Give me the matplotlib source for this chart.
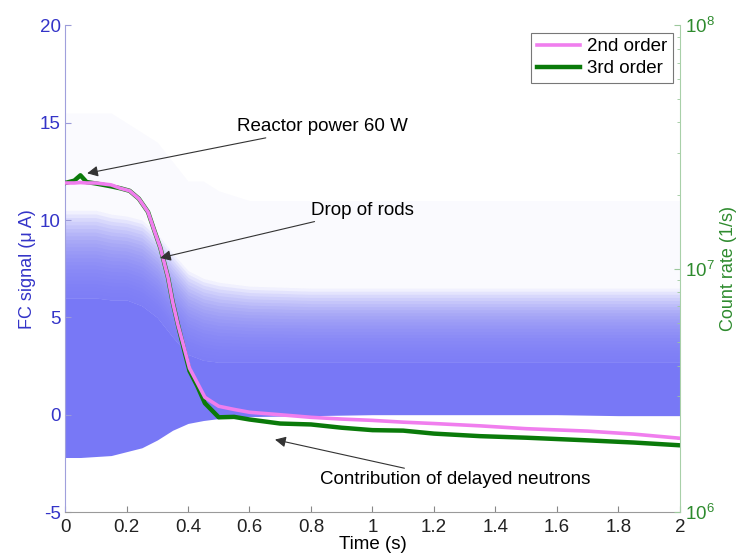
import numpy as np
import matplotlib
matplotlib.use("Agg")
import matplotlib.pyplot as plt

plt.rcParams['font.family'] = ['Liberation Sans', 'DejaVu Sans']
plt.rcParams['mathtext.fontset'] = 'custom'
plt.rcParams['mathtext.rm'] = 'Liberation Sans'
plt.rcParams['mathtext.it'] = 'Liberation Sans:italic'
plt.rcParams['axes.unicode_minus'] = False

# FC signal envelope (uA) versus time (s)
t_env = [0.0, 0.05, 0.10, 0.15, 0.20, 0.25, 0.30, 0.35, 0.40, 0.45, 0.50, 0.60,
         0.80, 1.00, 1.20, 1.40, 1.60, 1.80, 2.00]
fc_lower = [-2.2, -2.2, -2.15, -2.1, -1.9, -1.7, -1.3, -0.8, -0.45, -0.3, -0.2, -0.1,
            -0.05, 0.0, 0.0, 0.0, 0.0, -0.05, -0.05]
fc_core = [6.0, 6.0, 6.0, 5.9, 5.9, 5.6, 5.0, 4.0, 3.1, 2.8, 2.7, 2.7,
           2.7, 2.7, 2.7, 2.7, 2.7, 2.7, 2.7]
fc_fade = [10.5, 10.5, 10.5, 10.3, 10.2, 10.0, 9.3, 8.3, 7.4, 7.0, 6.8, 6.6,
           6.5, 6.5, 6.5, 6.5, 6.5, 6.5, 6.5]
fc_peak = [15.5, 15.5, 15.5, 15.5, 15.0, 14.5, 14.0, 13.0, 12.0, 12.0, 11.5, 11.0,
           11.0, 11.0, 11.0, 11.0, 11.0, 11.0, 11.0]

# Count rate (1/s) from 2nd and 3rd order
t_rate = [0.0, 0.03, 0.05, 0.07, 0.10, 0.15, 0.18, 0.21, 0.24, 0.27, 0.29, 0.31,
          0.335, 0.35, 0.367, 0.39, 0.405, 0.43, 0.455, 0.50, 0.55, 0.60, 0.70,
          0.80, 0.90, 1.00, 1.10, 1.20, 1.35, 1.50, 1.70, 1.85, 2.00]
rate_2nd = [2.25e7, 2.25e7, 2.26e7, 2.25e7, 2.25e7, 2.21e7, 2.14e7, 2.09e7, 1.94e7,
            1.71e7, 1.44e7, 1.22e7, 9.2e6, 7.3e6, 5.9e6, 4.6e6, 3.9e6, 3.4e6,
            2.96e6, 2.72e6, 2.64e6, 2.57e6, 2.51e6, 2.45e6, 2.41e6, 2.38e6, 2.34e6,
            2.31e6, 2.26e6, 2.2e6, 2.15e6, 2.09e6, 2.01e6]
rate_3rd = [2.25e7, 2.3e7, 2.42e7, 2.27e7, 2.24e7, 2.18e7, 2.14e7, 2.09e7, 1.94e7,
            1.71e7, 1.44e7, 1.22e7, 9.2e6, 7.3e6, 5.9e6, 4.5e6, 3.8e6, 3.3e6,
            2.8e6, 2.45e6, 2.46e6, 2.40e6, 2.31e6, 2.29e6, 2.22e6, 2.17e6, 2.16e6,
            2.10e6, 2.05e6, 2.02e6, 1.97e6, 1.93e6, 1.88e6]

blue = '#7878F6'
blue_txt = '#3434C8'
green = '#0A7A0A'
green_txt = '#2E8B2E'
pink = '#F07EEE'

fig = plt.figure(figsize=(7.39, 5.6), dpi=100)
ax = fig.add_axes([0.088, 0.0857, 0.832, 0.869])

t = np.array(t_env)
lo = np.array(fc_lower)
core = np.array(fc_core)
fade = np.array(fc_fade)
peak = np.array(fc_peak)

# faint spikes, fading tails, then the dense core of the signal
ax.fill_between(t, fade, peak, color=blue, alpha=0.035, lw=0)
n_layers = 24
for k in range(1, n_layers + 1):
    ax.fill_between(t, core, core + (fade - core) * k / n_layers,
                    color=blue, alpha=0.10, lw=0)
ax.fill_between(t, lo, core, color=blue, lw=0)

ax.set_xlim(0, 2)
ax.set_ylim(-5, 20)
ax.set_xticks(np.arange(0, 2.01, 0.2))
ax.set_xticklabels(['0', '0.2', '0.4', '0.6', '0.8', '1', '1.2', '1.4', '1.6', '1.8', '2'])
ax.set_yticks([-5, 0, 5, 10, 15, 20])
ax.tick_params(axis='x', direction='in', labelsize=13.5, length=4, colors='#888888',
               labelcolor='#222222', pad=5)
ax.tick_params(axis='y', direction='in', labelsize=13.5, length=4, colors='#9A9AD8',
               labelcolor=blue_txt, pad=3)
ax.set_xlabel('Time (s)', fontsize=13.5, labelpad=0)
ax.set_ylabel('FC signal (\u03bc A)', fontsize=13, color=blue_txt, labelpad=3)
for s in ['top', 'right']:
    ax.spines[s].set_visible(False)
ax.spines['left'].set_color('#A0A0DC')
ax.spines['bottom'].set_color('#9A9A9A')

ax2 = ax.twinx()
ax2.set_yscale('log')
ax2.plot(t_rate, rate_3rd, color=green, lw=3.2, label='3rd order', zorder=2)
ax2.plot(t_rate, rate_2nd, color=pink, lw=2.6, label='2nd order', zorder=3)
ax2.set_ylim(1e6, 1e8)
ax2.set_xlim(0, 2)
ax2.tick_params(axis='y', which='both', direction='in', colors='#9CC89C',
                labelcolor=green_txt, labelsize=13.5)
ax2.tick_params(axis='y', which='major', length=4)
ax2.tick_params(axis='y', which='minor', length=2.5)
ax2.set_ylabel('Count rate (1/s)', fontsize=13, color=green_txt, labelpad=4)
for s in ['top', 'left', 'bottom']:
    ax2.spines[s].set_visible(False)
ax2.spines['right'].set_color('#A8D0A8')

handles, labels = ax2.get_legend_handles_labels()
leg = ax2.legend(handles[::-1], labels[::-1], loc='upper right',
                 bbox_to_anchor=(0.988, 0.985), fontsize=13.5, frameon=True,
                 fancybox=False, edgecolor='#555555', borderpad=0.3,
                 handlelength=2.3, handletextpad=0.35, labelspacing=0.25,
                 borderaxespad=0.0)
leg.get_frame().set_linewidth(0.8)

arrow = dict(arrowstyle='-|>', color='#333333', lw=0.8, mutation_scale=16,
             shrinkA=0, shrinkB=0)
ax2.annotate('Reactor power 60 W', xy=(0.072, 12.4), xytext=(0.56, 14.8),
             xycoords=ax.transData, textcoords=ax.transData, fontsize=13.5,
             va='center', ha='left', arrowprops=arrow)
ax2.annotate('Drop of rods', xy=(0.309, 8.05), xytext=(0.80, 10.5),
             xycoords=ax.transData, textcoords=ax.transData, fontsize=13.5,
             va='center', ha='left', arrowprops=arrow)
ax2.annotate('Contribution of delayed neutrons', xy=(0.683, -1.28),
             xytext=(0.83, -3.33), xycoords=ax.transData,
             textcoords=ax.transData, fontsize=13.5, va='center', ha='left',
             arrowprops=arrow)

fig.savefig('out.png', dpi=100)
